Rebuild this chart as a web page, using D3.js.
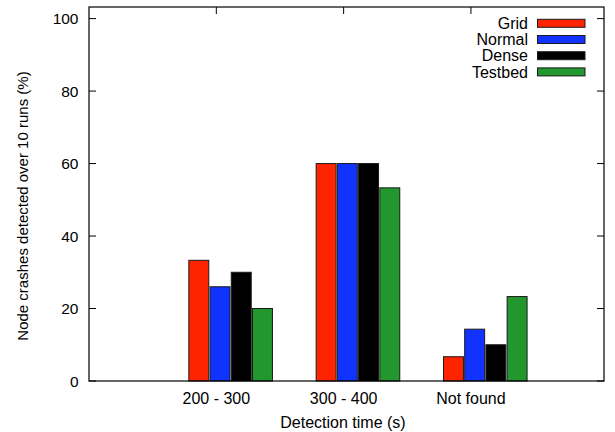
<!DOCTYPE html>
<html>
<head>
<meta charset="utf-8">
<script src="https://cdn.jsdelivr.net/npm/d3@7"></script>
<style>
  body { margin: 0; background: #fff; }
  svg { display: block; font-family: "Liberation Sans", Arial, sans-serif; }
</style>
</head>
<body>
<svg width="615" height="432"></svg>
<script>
// Clustered histogram: node crashes detected per detection-time bucket

const categories = ["200 - 300", "300 - 400", "Not found"];
const seriesNames = ["Grid", "Normal", "Dense", "Testbed"];
const seriesColors = ["#ff2400", "#1033ff", "#000000", "#22972d"];
const grid = [33.3, 60, 6.7];
const normal = [26, 60, 14.3];
const dense = [30, 60, 10];
const testbed = [20, 53.3, 23.3];
const yTicks = [0, 20, 40, 60, 80, 100];

const values = [grid, normal, dense, testbed];

const svg = d3.select("svg");
const plotLeft = 89, plotRight = 604, plotTop = 7, plotBottom = 381;

// x in "category units" like gnuplot, y in percent
const x = d3.scaleLinear().domain([-1, 3.045]).range([plotLeft, plotRight]);
const y = d3.scaleLinear().domain([0, 103.2]).range([plotBottom, plotTop]);

const slot = 1 / 6;          // one bar slot in category units
const barW = slot * 0.94;
const firstOffset = -0.1375; // centre of first bar relative to the tick

// ticks (inward), drawn under the bars
const tickG = svg.append("g").attr("stroke", "#000").attr("stroke-width", 1);
yTicks.forEach(t => {
  tickG.append("line").attr("x1", plotLeft).attr("x2", plotLeft + 7).attr("y1", y(t)).attr("y2", y(t));
  tickG.append("line").attr("x1", plotRight).attr("x2", plotRight - 7).attr("y1", y(t)).attr("y2", y(t));
});
categories.forEach((c, i) => {
  tickG.append("line").attr("x1", x(i)).attr("x2", x(i)).attr("y1", plotTop).attr("y2", plotTop + 7);
  tickG.append("line").attr("x1", x(i)).attr("x2", x(i)).attr("y1", plotBottom).attr("y2", plotBottom - 7);
});

// bars
const barG = svg.append("g");
values.forEach((vals, s) => {
  barG.selectAll(null)
    .data(vals)
    .join("rect")
    .attr("x", (d, i) => x(i + firstOffset + s * slot - barW / 2))
    .attr("width", x(barW) - x(0))
    .attr("y", d => y(d))
    .attr("height", d => y(0) - y(d))
    .attr("fill", seriesColors[s])
    .attr("stroke", "#1a1a1a")
    .attr("stroke-width", 1);
});

// frame
svg.append("rect")
  .attr("x", plotLeft).attr("y", plotTop)
  .attr("width", plotRight - plotLeft).attr("height", plotBottom - plotTop)
  .attr("fill", "none").attr("stroke", "#000").attr("stroke-width", 1.2);

// y tick labels
svg.append("g").selectAll("text")
  .data(yTicks)
  .join("text")
  .attr("x", plotLeft - 10.5)
  .attr("y", d => y(d))
  .attr("dy", "0.36em")
  .attr("text-anchor", "end")
  .attr("font-size", 15.5)
  .text(d => d);

// x tick labels
svg.append("g").selectAll("text")
  .data(categories)
  .join("text")
  .attr("x", (d, i) => x(i))
  .attr("y", 404)
  .attr("text-anchor", "middle")
  .attr("font-size", 16)
  .text(d => d);

// axis titles
svg.append("text")
  .attr("x", 343).attr("y", 427.5)
  .attr("text-anchor", "middle")
  .attr("font-size", 16)
  .text("Detection time (s)");

svg.append("text")
  .attr("transform", "translate(27.5,206) rotate(-90)")
  .attr("text-anchor", "middle")
  .attr("font-size", 15)
  .text("Node crashes detected over 10 runs (%)");

// legend
const legend = svg.append("g").selectAll("g")
  .data(seriesNames)
  .join("g")
  .attr("transform", (d, i) => `translate(0,${23.3 + i * 16.2})`);

legend.append("text")
  .attr("x", 528)
  .attr("dy", "0.36em")
  .attr("text-anchor", "end")
  .attr("font-size", 16)
  .text(d => d);

legend.append("rect")
  .attr("x", 537.5).attr("y", -4)
  .attr("width", 47.5).attr("height", 8)
  .attr("fill", (d, i) => seriesColors[i])
  .attr("stroke", "#1a1a1a")
  .attr("stroke-width", 1);
</script>
</body>
</html>
